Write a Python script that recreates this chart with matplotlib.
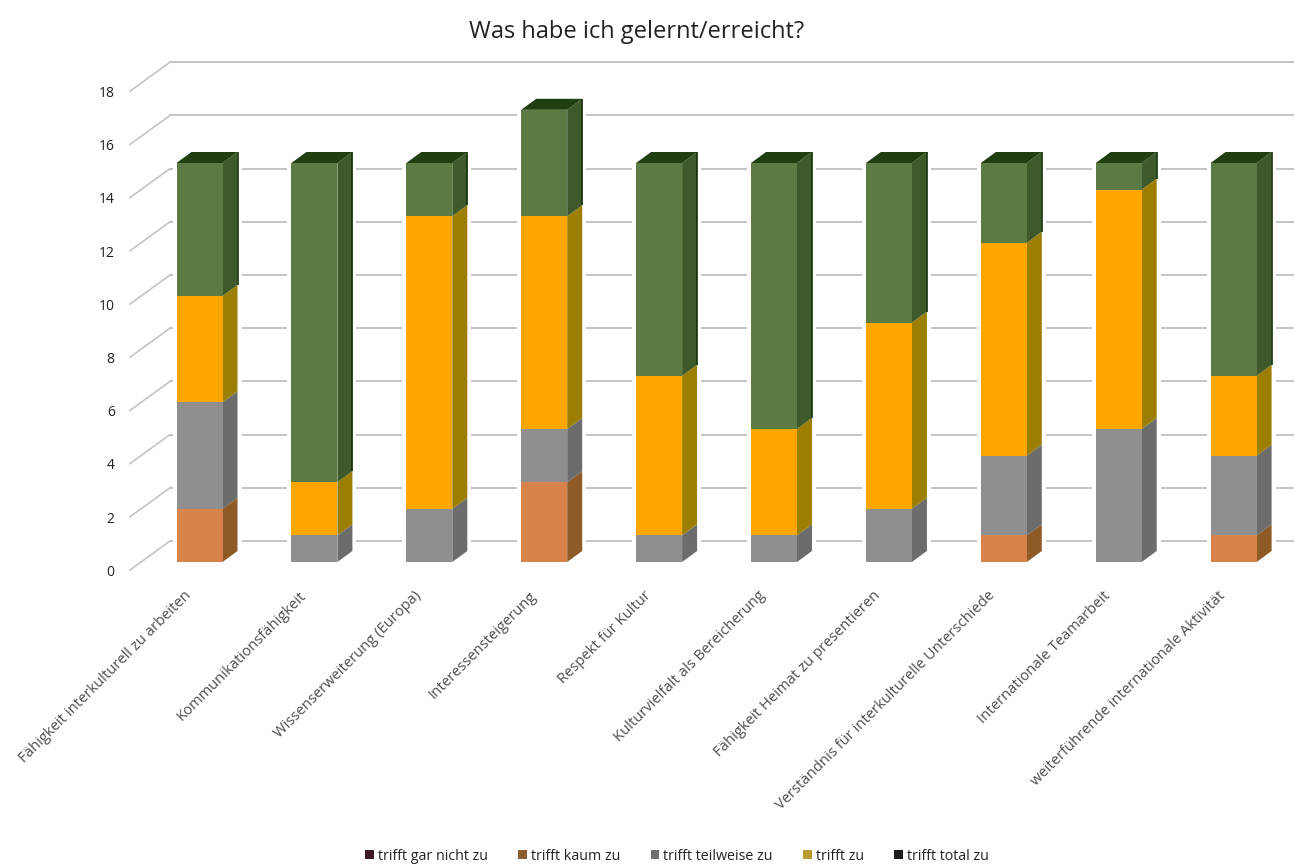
import numpy as np
import matplotlib
matplotlib.use("Agg")
import matplotlib.pyplot as plt
from matplotlib.patches import Patch, Polygon
from matplotlib.transforms import ScaledTranslation

plt.rcParams['font.family'] = ['Open Sans', 'DejaVu Sans']

kategorien = ["Fähigkeit interkulturell zu arbeiten", "Kommunikationsfähigkeit",
              "Wissenserweiterung (Europa)", "Interessensteigerung", "Respekt für Kultur",
              "Kulturvielfalt als Bereicherung", "Fähigkeit Heimat zu presentieren",
              "Verständnis für interkulturelle Unterschiede", "Internationale Teamarbeit",
              "weiterführende internationale Aktivität"]

gar_nicht = [0, 0, 0, 0, 0, 0, 0, 0, 0, 0]
kaum = [2, 0, 0, 3, 0, 0, 0, 1, 0, 1]
teilweise = [4, 1, 2, 2, 1, 1, 2, 3, 5, 3]
zu = [4, 2, 11, 8, 6, 4, 7, 8, 9, 3]
total = [5, 12, 2, 4, 8, 10, 6, 3, 1, 8]
yticks = [0, 2, 4, 6, 8, 10, 12, 14, 16, 18]

serien = [gar_nicht, kaum, teilweise, zu, total]
namen = ["trifft gar nicht zu", "trifft kaum zu", "trifft teilweise zu", "trifft zu", "trifft total zu"]
front = ["#4a1f28", "#D8824C", "#8F8F8F", "#FFA600", "#5C7B44"]
seite = ["#2c1015", "#8E5A26", "#6C6C6C", "#9C7F00", "#3E5A2A"]
legende = ["#3a1a20", "#8a5c30", "#6f6f6f", "#b89a30", "#1c1c1c"]

W, H = 1294, 864
fig = plt.figure(figsize=(W / 100, H / 100), dpi=100)

# axes span from the y axis to the right edge, value 0 sits on the bar base
links, unten, oben = 130, 562, 40
px_x, px_y = 114.9, 26.6
ax = fig.add_axes([links / W, (H - unten) / H, (W - links) / W, (unten - oben) / H])
ax.set_xlim((links - 199.5) / px_x, (W - 199.5) / px_x)
ax.set_ylim(0, (unten - oben) / px_y)
for s in ax.spines.values():
    s.set_visible(False)
ax.patch.set_alpha(0)

breite = 46 / px_x
tief_x, tief_y = 15 / px_x, 11 / px_y
wand_x, wand_y = (170 - links) / px_x, 21 / px_y
vorn_y = 8 / px_y
x0 = ax.get_xlim()[0]

# back wall gridlines with the slanted part on the left
for v in yticks:
    ax.plot([x0 + wand_x, ax.get_xlim()[1]], [v + wand_y, v + wand_y], color="#c4c4c4",
            lw=1.4, zorder=1, clip_on=False)
    ax.plot([x0, x0 + wand_x], [v - vorn_y, v + wand_y], color="#c4c4c4", lw=1.2,
            zorder=1, clip_on=False)

x = np.arange(len(kategorien))
summe = np.sum(serien, axis=0)

# white gap the bars leave in the gridlines
rand_x, rand_y = 4 / px_x, 3 / px_y
for i in x:
    l = i - breite / 2 - rand_x
    r = i + breite / 2 + tief_x + rand_x
    ax.add_patch(Polygon([(l, 0), (r, 0), (r, summe[i] + tief_y - rand_y), (l, summe[i] + tief_y - rand_y)],
                         facecolor="white", edgecolor="none", zorder=2))

boden = np.zeros(len(kategorien))
for werte, name, c, c2 in zip(serien, namen, front, seite):
    werte = np.array(werte)
    ax.bar(x, werte, breite, bottom=boden, color=c, linewidth=0, label=name, zorder=4)
    for i in x:
        if werte[i] == 0:
            continue
        r = i + breite / 2
        b, t = boden[i], boden[i] + werte[i]
        ax.add_patch(Polygon([(r, b), (r + tief_x, b + tief_y), (r + tief_x, t + tief_y), (r, t)],
                             facecolor=c2, edgecolor="none", zorder=3))
    boden = boden + werte

# top faces and the dark outer edge on the green part
for i in x:
    l, r, t = i - breite / 2, i + breite / 2, summe[i]
    ax.add_patch(Polygon([(l, t), (l + tief_x, t + tief_y), (r + tief_x, t + tief_y), (r, t)],
                         facecolor="#1F3F10", edgecolor="none", zorder=4))
    ax.plot([r + tief_x, r + tief_x], [t - total[i] + tief_y, t + tief_y], color="#123208",
            lw=1.2, solid_capstyle="butt", zorder=3.5)

ax.set_yticks(yticks)
ax.tick_params(axis='y', length=0, pad=11, labelsize=10, labelcolor="#222222")
verschiebung = ScaledTranslation(0, -6 / 72, fig.dpi_scale_trans)
for lab in ax.get_yticklabels():
    lab.set_transform(lab.get_transform() + verschiebung)

ax.set_xticks(x)
ax.set_xticklabels(kategorien, rotation=45, ha="right", rotation_mode="anchor",
                   fontsize=10.6, color="#4d4d4d")
ax.tick_params(axis='x', length=0, pad=19)
verschiebung_x = ScaledTranslation(-11.5 / 72, 0, fig.dpi_scale_trans)
for lab in ax.get_xticklabels():
    lab.set_transform(lab.get_transform() + verschiebung_x)

fig.text(637 / W, 1 - 32 / H, "Was habe ich gelernt/erreicht?", ha="center", va="center",
         fontsize=17, color="#222222")

griffe = [Patch(facecolor=c, label=n) for c, n in zip(legende, namen)]
fig.legend(handles=griffe, loc="center", bbox_to_anchor=(677 / W, 1 - 856 / H), ncol=5, frameon=False,
           fontsize=10.3, handlelength=0.6, handleheight=0.6, handletextpad=0.3, columnspacing=2.1,
           labelcolor="#222222")

fig.savefig("out.png", dpi=100)
